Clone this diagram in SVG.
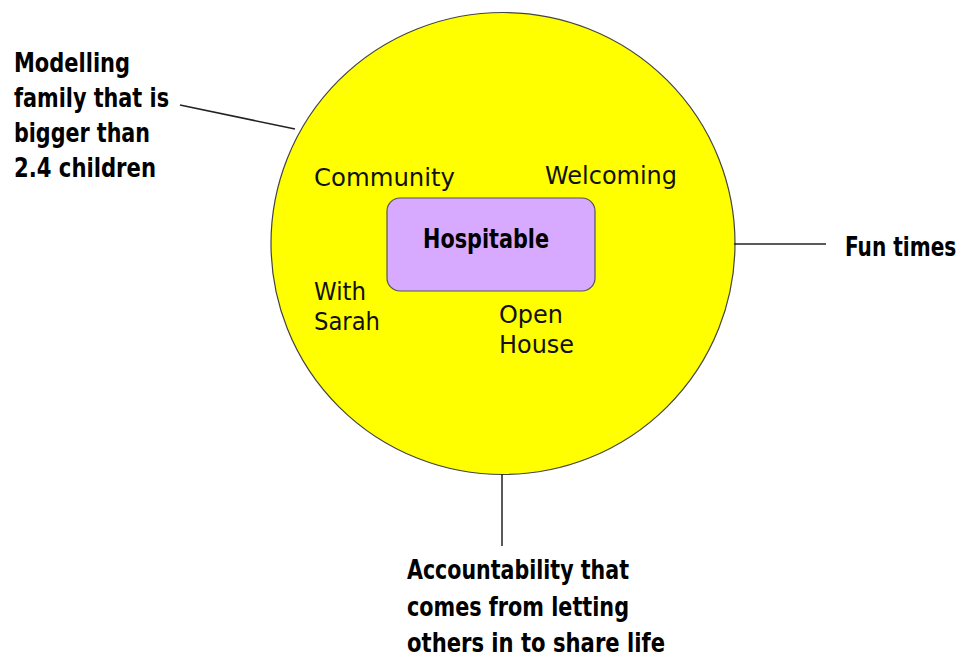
<svg xmlns="http://www.w3.org/2000/svg" width="971" height="660" viewBox="0 0 971 660">
<style>
.b{font-family:"DejaVu Sans Condensed","DejaVu Sans",sans-serif;font-weight:bold;font-stretch:condensed;font-size:26px;fill:#000}
.r{font-family:"DejaVu Sans",sans-serif;font-size:24px;fill:#111}
.ln{stroke:#222;stroke-width:1.5;fill:none}
</style>
<rect width="971" height="660" fill="#fff"/>
<g id="circle">
<ellipse cx="503" cy="243.5" rx="232" ry="231" fill="#ffff00" stroke="#444" stroke-width="1.2"/>
<text class="r" x="314" y="186" textLength="141" lengthAdjust="spacingAndGlyphs">Community</text>
<text class="r" x="545" y="184" textLength="132" lengthAdjust="spacingAndGlyphs">Welcoming</text>
<text class="r" x="314" y="300" textLength="52" lengthAdjust="spacingAndGlyphs">With</text>
<text class="r" x="314" y="330" textLength="66" lengthAdjust="spacingAndGlyphs">Sarah</text>
<text class="r" x="499" y="323" textLength="64" lengthAdjust="spacingAndGlyphs">Open</text>
<text class="r" x="499" y="353" textLength="75" lengthAdjust="spacingAndGlyphs">House</text>
</g>
<g id="hospitable">
<rect x="387" y="198" width="208" height="93" rx="13" fill="#d7aaff" stroke="#555" stroke-width="1.2"/>
<text class="b" x="423" y="248" textLength="126" lengthAdjust="spacingAndGlyphs">Hospitable</text>
</g>
<g id="connectors">
<line class="ln" x1="180" y1="105" x2="295" y2="129"/>
<line class="ln" x1="734" y1="244" x2="826" y2="244"/>
<line class="ln" x1="502" y1="474" x2="502" y2="546"/>
</g>
<g id="modelling">
<text class="b" x="14" y="72" textLength="116" lengthAdjust="spacingAndGlyphs">Modelling</text>
<text class="b" x="14" y="107" textLength="155" lengthAdjust="spacingAndGlyphs">family that is</text>
<text class="b" x="14" y="142" textLength="136" lengthAdjust="spacingAndGlyphs">bigger than</text>
<text class="b" x="14" y="177" textLength="142" lengthAdjust="spacingAndGlyphs">2.4 children</text>
</g>
<g id="fun">
<text class="b" transform="translate(845,256) scale(0.86,1)">Fun times</text>
</g>
<g id="accountability">
<text class="b" x="407" y="579" textLength="222" lengthAdjust="spacingAndGlyphs">Accountability that</text>
<text class="b" x="407" y="616" textLength="222" lengthAdjust="spacingAndGlyphs">comes from letting</text>
<text class="b" x="407" y="652" textLength="258" lengthAdjust="spacingAndGlyphs">others in to share life</text>
</g>
</svg>
